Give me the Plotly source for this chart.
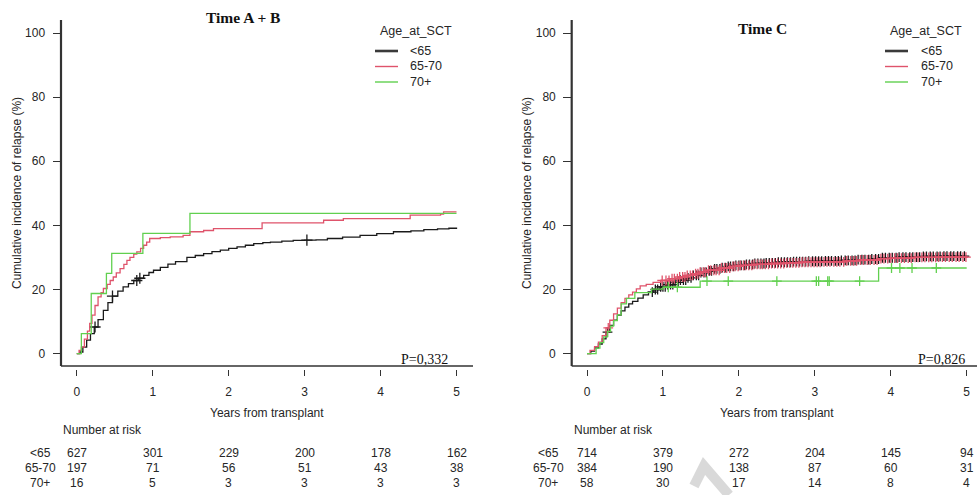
import numpy as np
import plotly.graph_objects as go

W, H = 977, 495

# ---------------- data ----------------
groups = ["<65", "65-70", "70+"]
colors = ["#1a1a1a", "#DF536B", "#61D04F"]
year_ticks = [0, 1, 2, 3, 4, 5]
y_ticks = [0, 20, 40, 60, 80, 100]

# Time A + B : cumulative incidence (%)
ab_lt65_t = [0, 0.04, 0.08, 0.13, 0.18, 0.23, 0.28, 0.35, 0.41, 0.47, 0.54, 0.61, 0.68, 0.75, 0.81, 0.88,
             0.95, 1.01, 1.1, 1.2, 1.3, 1.45, 1.56, 1.67, 1.78, 1.89, 2.0, 2.11, 2.22, 2.33, 2.45, 2.55,
             2.7, 2.85, 3.0, 3.15, 3.3, 3.5, 3.73, 3.95, 4.17, 4.4, 4.57, 4.75, 4.9, 5.0]
ab_lt65_v = [0, 0.5, 2.0, 4.2, 6.2, 8.3, 10.6, 13.5, 15.9, 17.9, 19.5, 20.8, 21.8, 22.8, 23.5, 24.4,
             25.3, 26.0, 26.9, 27.9, 28.7, 30.0, 30.6, 31.2, 31.8, 32.3, 32.8, 33.3, 33.8, 34.3, 34.6, 34.8,
             35.1, 35.3, 35.4, 35.5, 35.9, 36.3, 36.9, 37.4, 38.0, 38.3, 38.7, 38.9, 39.1, 39.3]
ab_lt65_cens = [0.24, 0.47, 0.79, 0.83, 3.03]

ab_6570_t = [0, 0.03, 0.06, 0.1, 0.14, 0.17, 0.2, 0.24, 0.28, 0.32, 0.35, 0.4, 0.44, 0.48, 0.52, 0.57,
             0.62, 0.66, 0.7, 0.75, 0.79, 0.84, 0.88, 0.92, 0.96, 1.1, 1.23, 1.4, 1.49, 1.67, 1.8, 2.44,
             3.25, 3.51, 4.39, 4.79, 4.83, 5.0]
ab_6570_v = [0, 1.0, 2.0, 4.5, 7.0, 9.4, 12.0, 15.0, 17.7, 19.0, 20.3, 21.6, 22.8, 23.9, 25.2, 26.5,
             27.8, 29.1, 30.0, 31.0, 31.7, 32.8, 33.8, 34.8, 35.9, 36.2, 36.4, 36.9, 38.0, 38.4, 39.0, 40.8,
             41.6, 42.1, 43.2, 43.5, 44.2, 44.2]
ab_6570_cens = []

ab_70p_t = [0, 0.06, 0.19, 0.39, 0.46, 0.87, 1.49, 5.0]
ab_70p_v = [0, 6.25, 18.75, 25.0, 31.25, 37.5, 43.75, 43.75]
ab_70p_cens = []

# Time C : cumulative incidence (%)
c_lt65_t = [0, 0.05, 0.1, 0.15, 0.2, 0.25, 0.3, 0.35, 0.4, 0.45, 0.5, 0.55, 0.6, 0.67, 0.74, 0.81, 0.88,
            0.96, 1.05, 1.14, 1.22, 1.31, 1.4, 1.49, 1.58, 1.66, 1.76, 1.86, 1.96, 2.08, 2.2, 2.35, 2.5,
            2.7, 2.9, 3.1, 3.35, 3.55, 3.75, 3.88, 4.1, 4.4, 4.7, 5.0]
c_lt65_v = [0, 0.8, 1.8, 3.0, 4.6, 6.7, 8.8, 10.4, 12.0, 13.3, 14.5, 15.5, 16.3, 17.3, 18.3, 19.2, 20.0,
            20.8, 21.5, 22.2, 22.9, 23.6, 24.4, 25.3, 25.8, 26.4, 26.8, 27.2, 27.5, 27.8, 28.1, 28.3, 28.5,
            28.7, 28.8, 28.9, 29.1, 29.3, 29.5, 29.9, 30.1, 30.3, 30.4, 30.4]
c_lt65_cens = [0.27, 0.86, 0.9, 0.93, 0.97, 1.0, 1.03, 1.06, 1.1, 1.13, 1.16, 1.2, 1.23, 1.27, 1.3, 1.33,
               1.37, 1.4, 1.44, 1.47, 1.5, 1.54, 1.57, 1.61, 1.64, 1.68, 1.71, 1.75, 1.78, 1.82, 1.86, 1.89,
               1.93, 1.96, 2.0, 2.03, 2.07, 2.1, 2.14, 2.18, 2.21, 2.25, 2.29, 2.33, 2.36, 2.4, 2.44, 2.48,
               2.52, 2.56, 2.6, 2.64, 2.68, 2.72, 2.76, 2.8, 2.84, 2.88, 2.92, 2.97, 3.01, 3.05, 3.09,
               3.14, 3.18, 3.22, 3.27, 3.31, 3.35, 3.4, 3.44, 3.49, 3.53, 3.57, 3.62, 3.66, 3.71, 3.75,
               3.8, 3.84, 3.89, 3.93, 3.98, 4.02, 4.07, 4.11, 4.16, 4.2, 4.25, 4.29, 4.34, 4.38, 4.43,
               4.47, 4.52, 4.56, 4.61, 4.65, 4.7, 4.74, 4.79, 4.83, 4.88, 4.92, 4.97]

c_6570_t = [0, 0.04, 0.1, 0.15, 0.2, 0.25, 0.3, 0.35, 0.4, 0.45, 0.5, 0.55, 0.6, 0.65, 0.7, 0.78, 0.87,
            0.97, 1.09, 1.2, 1.31, 1.4, 1.49, 1.6, 1.75, 1.9, 2.02, 2.2, 2.4, 2.6, 2.8, 3.1, 3.4, 3.6,
            3.85, 4.0, 4.3, 4.6, 5.0]
c_6570_v = [0, 1.0, 2.2, 3.6, 5.6, 8.0, 10.4, 12.4, 14.2, 15.9, 17.2, 18.3, 19.2, 20.2, 21.1, 21.6, 22.2,
            22.8, 23.4, 23.9, 24.4, 24.9, 25.4, 26.0, 26.7, 27.2, 27.5, 27.8, 28.1, 28.3, 28.5, 28.6,
            28.9, 29.2, 29.6, 29.8, 30.0, 30.1, 30.2]
c_6570_cens = [0.28, 0.99, 1.04, 1.08, 1.12, 1.15, 1.19, 1.22, 1.26, 1.29, 1.32, 1.36, 1.39, 1.43, 1.46,
               1.49, 1.53, 1.56, 1.6, 1.63, 1.67, 1.7, 1.74, 1.77, 1.81, 1.84, 1.88, 1.92, 1.95, 1.99,
               2.02, 2.06, 2.09, 2.13, 2.17, 2.2, 2.24, 2.28, 2.31, 2.35, 2.39, 2.43, 2.47, 2.51, 2.55,
               2.59, 2.63, 2.67, 2.71, 2.75, 2.79, 2.83, 2.87, 2.91, 2.95, 2.99, 3.03, 3.07, 3.12, 3.16,
               3.2, 3.25, 3.29, 3.33, 3.38, 3.42, 3.47, 3.51, 3.55, 3.6, 3.64, 3.69, 3.73, 3.78, 3.82,
               3.87, 3.91, 3.96, 4.0, 4.05, 4.09, 4.14, 4.18, 4.23, 4.27, 4.32, 4.36, 4.41, 4.45, 4.5,
               4.54, 4.59, 4.63, 4.68, 4.72, 4.77, 4.81, 4.86, 4.9, 4.95, 4.99]

c_70p_t = [0, 0.12, 0.17, 0.22, 0.27, 0.31, 0.35, 0.40, 0.45, 0.52, 0.63, 0.85, 1.0, 1.49, 3.84, 5.0]
c_70p_v = [0, 1.7, 3.4, 5.2, 6.9, 8.6, 10.3, 12.1, 15.5, 17.2, 19.0, 20.1, 20.7, 22.6, 26.7, 26.7]
c_70p_cens = [1.07, 1.19, 1.58, 1.86, 2.50, 3.02, 3.05, 3.17, 3.19, 3.59, 4.01, 4.12, 4.28, 4.60]

risk_ab_lt65 = [627, 301, 229, 200, 178, 162]
risk_ab_6570 = [197, 71, 56, 51, 43, 38]
risk_ab_70p = [16, 5, 3, 3, 3, 3]
risk_c_lt65 = [714, 379, 272, 204, 145, 94]
risk_c_6570 = [384, 190, 138, 87, 60, 31]
risk_c_70p = [58, 30, 17, 14, 8, 4]

titles = ["Time A + B", "Time C"]
pvalues = ["P=0,332", "P=0,826"]
y_title = "Cumulative incidence of relapse (%)"
x_title = "Years from transplant"
legend_title = "Age_at_SCT"

# ---------------- layout geometry (pixels) ----------------
def fx(p):
    return p / W

def fy(p):
    return 1 - p / H

TOP, XLINE, TICK0, Y0PX, Y100PX = 20, 366, 368.5, 353.6, 33.0
panels = [
    dict(axis_x=61.0, x0=76.8, x5=456.5, right=473.0, title_x=243, title_y=17, p_right=450,
         ytitle_x=17, legend_line=(375, 398), legend_text=408, legend_title_x=416, riskcol=40, msize=8),
    dict(axis_x=571.7, x0=587.0, x5=966.7, right=977.0, title_x=762, title_y=28, p_right=967,
         ytitle_x=527, legend_line=(885, 908), legend_text=919, legend_title_x=926, riskcol=548, msize=7),
]
panel_data = [
    [(ab_lt65_t, ab_lt65_v, ab_lt65_cens), (ab_6570_t, ab_6570_v, ab_6570_cens), (ab_70p_t, ab_70p_v, ab_70p_cens)],
    [(c_lt65_t, c_lt65_v, c_lt65_cens), (c_6570_t, c_6570_v, c_6570_cens), (c_70p_t, c_70p_v, c_70p_cens)],
]
panel_risk = [[risk_ab_lt65, risk_ab_6570, risk_ab_70p], [risk_c_lt65, risk_c_6570, risk_c_70p]]

SANS = "Liberation Sans, Arial, sans-serif"
SERIF = "Liberation Serif, Times New Roman, serif"
TXT = "#262626"
AX = "#333333"

fig = go.Figure()
layout = dict(width=W, height=H, margin=dict(l=0, r=0, t=0, b=0), paper_bgcolor="white",
              plot_bgcolor="white", showlegend=False)
shapes, annotations = [], []

sy = (Y0PX - Y100PX) / 100.0
for i, pn in enumerate(panels):
    sfx = "" if i == 0 else str(i + 1)
    xa, ya = "x" + sfx, "y" + sfx
    sx = (pn["x5"] - pn["x0"]) / 5.0
    layout["xaxis" + sfx] = dict(
        domain=[fx(pn["axis_x"]), fx(pn["right"])],
        range=[(pn["axis_x"] - pn["x0"]) / sx, (pn["right"] - pn["x0"]) / sx],
        anchor=ya, showgrid=False, zeroline=False, showline=False,
        ticks="outside", ticklen=6.5, tickwidth=1.4, tickcolor=AX,
        tickvals=year_ticks, ticktext=[str(v) for v in year_ticks],
        tickfont=dict(family=SANS, size=12, color=TXT), ticklabelstandoff=6,
    )
    layout["yaxis" + sfx] = dict(
        domain=[fy(TICK0), fy(TOP)],
        range=[(Y0PX - TICK0) / sy, (Y0PX - TOP) / sy],
        anchor=xa, showgrid=False, zeroline=False, showline=False,
        ticks="outside", ticklen=7.5, tickwidth=1.4, tickcolor=AX,
        tickvals=y_ticks, ticktext=[str(v) for v in y_ticks],
        tickfont=dict(family=SANS, size=12, color=TXT), ticklabelstandoff=5,
    )
    # axis lines (L-shaped box)
    shapes.append(dict(type="line", xref="paper", yref="paper", x0=fx(pn["axis_x"]), x1=fx(pn["axis_x"]),
                       y0=fy(TOP), y1=fy(XLINE), line=dict(color=AX, width=2.2)))
    shapes.append(dict(type="line", xref="paper", yref="paper", x0=fx(pn["axis_x"]), x1=fx(pn["right"]),
                       y0=fy(XLINE), y1=fy(XLINE), line=dict(color=AX, width=1.6)))

    # curves
    for g, (t, v, cens) in enumerate(panel_data[i]):
        fig.add_trace(go.Scatter(x=t, y=v, mode="lines", line=dict(color=colors[g], width=1.3, shape="hv"),
                                 xaxis=xa, yaxis=ya, hoverinfo="skip"))
        if cens:
            tt = np.asarray(t)
            vv = np.asarray(v)
            idx = np.searchsorted(tt, np.asarray(cens), side="right") - 1
            fig.add_trace(go.Scatter(x=cens, y=vv[idx], mode="markers", xaxis=xa, yaxis=ya,
                                     marker=dict(symbol="cross-thin", size=pn["msize"],
                                                 line=dict(color=colors[g], width=1.3)),
                                     hoverinfo="skip"))

    # title
    annotations.append(dict(text="<b>%s</b>" % titles[i], xref="paper", yref="paper", x=fx(pn["title_x"]),
                            y=fy(pn["title_y"]), xanchor="center", yanchor="middle", showarrow=False,
                            font=dict(family=SERIF, size=15.5, color="#111")))
    # p-value
    annotations.append(dict(text=pvalues[i], xref="paper", yref="paper", x=fx(pn["p_right"]), y=fy(359),
                            xanchor="right", yanchor="middle", showarrow=False,
                            font=dict(family=SERIF, size=14, color="#111")))
    # y title
    annotations.append(dict(text=y_title, xref="paper", yref="paper", x=fx(pn["ytitle_x"]), y=fy(193),
                            xanchor="center", yanchor="middle", showarrow=False, textangle=-90,
                            font=dict(family=SANS, size=12, color=TXT)))
    # x title
    annotations.append(dict(text=x_title, xref=xa, yref="paper", x=2.5, y=fy(413),
                            xanchor="center", yanchor="middle", showarrow=False,
                            font=dict(family=SANS, size=12, color=TXT)))
    # legend
    annotations.append(dict(text=legend_title, xref="paper", yref="paper", x=fx(pn["legend_title_x"]),
                            y=fy(31.5), xanchor="center", yanchor="middle", showarrow=False,
                            font=dict(family=SANS, size=12.5, color=TXT)))
    for g, name in enumerate(groups):
        yy = 51 + 15.5 * g
        shapes.append(dict(type="line", xref="paper", yref="paper", x0=fx(pn["legend_line"][0]),
                           x1=fx(pn["legend_line"][1]), y0=fy(yy), y1=fy(yy),
                           line=dict(color="#3a3a3a" if g == 0 else colors[g], width=2.6 if g == 0 else 1.4)))
        annotations.append(dict(text=name, xref="paper", yref="paper", x=fx(pn["legend_text"]), y=fy(yy),
                                xanchor="left", yanchor="middle", showarrow=False,
                                font=dict(family=SANS, size=12.5, color=TXT)))
    # number at risk
    annotations.append(dict(text="Number at risk", xref="paper", yref="paper", x=fx(pn["axis_x"]), y=fy(430),
                            xanchor="left", yanchor="middle", showarrow=False,
                            font=dict(family=SANS, size=12, color=TXT)))
    for g, name in enumerate(groups):
        yy = [453.3, 468.0, 483.3][g]
        annotations.append(dict(text=name, xref="paper", yref="paper", x=fx(pn["riskcol"]), y=fy(yy),
                                xanchor="center", yanchor="middle", showarrow=False,
                                font=dict(family=SANS, size=12, color=TXT)))
        for k, n in enumerate(panel_risk[i][g]):
            annotations.append(dict(text=str(n), xref=xa, yref="paper", x=year_ticks[k], y=fy(yy),
                                    xanchor="center", yanchor="middle", showarrow=False,
                                    font=dict(family=SANS, size=12, color=TXT)))

# faint watermark fragment seen in the reference
wm = "M %f %f L %f %f L %f %f" % (fx(694), fy(486), fx(704), fy(466), fx(729), fy(495))
shapes.append(dict(type="path", xref="paper", yref="paper", path=wm, line=dict(color="#d9d9d9", width=10),
                   layer="below"))

layout["shapes"] = shapes
layout["annotations"] = annotations
fig.update_layout(**layout)
fig.write_html("out.html")
